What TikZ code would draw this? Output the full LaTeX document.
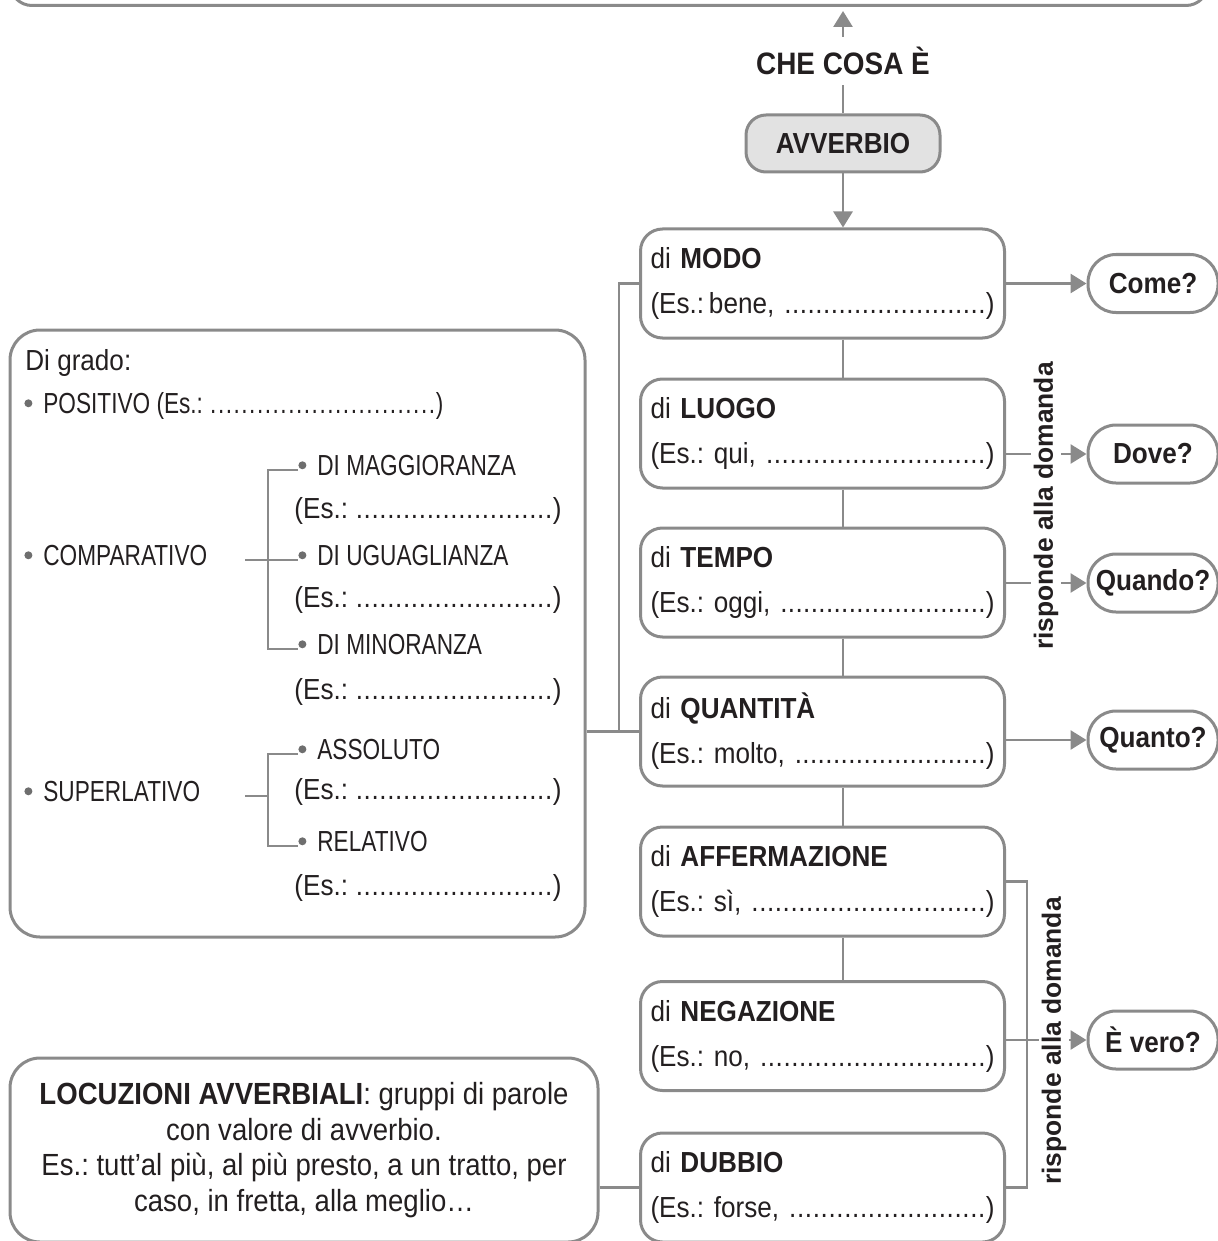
\documentclass[tikz,border=0pt]{standalone}
\usepackage{fontspec}
\setmainfont{Liberation Sans}[FakeStretch=0.9]
\newfontfamily\capsfont{Liberation Sans}[FakeStretch=0.78]
\newfontfamily\askfont{Liberation Sans}
\usetikzlibrary{positioning, arrows.meta}
\frenchspacing

\definecolor{linegray}{RGB}{138,138,138}
\definecolor{ink}{RGB}{35,31,32}
\definecolor{chipfill}{RGB}{226,226,226}
\definecolor{bulletgray}{RGB}{110,110,110}

\newcommand\blank{\xleaders\hbox to 3.8pt{\hss.\hss}\hfill)}
\newcommand\itm{\tikz[baseline=-5pt]\fill[bulletgray] (0,0) circle (2pt);\hspace{5.5pt}}

\begin{document}
\begin{tikzpicture}[
        x=0.5pt, y=-0.5pt,
        txt/.style={font=\fontsize{14.5}{22.5}\selectfont, text=ink},
        frame/.style={draw=linegray, line width=1.5pt, rounded corners=11pt},
        kind/.style={frame, txt, text width=172pt, align=left, inner xsep=5pt, minimum height=54.5pt},
        ask/.style={frame, rounded corners=14pt, txt, font=\fontsize{14.5}{17}\selectfont\bfseries, minimum width=65pt, minimum height=29pt, inner sep=1pt},
        item/.style={txt, inner sep=0pt, anchor=mid west},
        link/.style={draw=linegray, line width=1.4pt},
        arr/.style={link, -{Triangle[length=8pt, width=9.5pt]}},
        answer/.style={rotate=90, fill=white, inner sep=1.5pt, text=ink, font=\askfont\fontsize{13.2}{15}\selectfont\bfseries}
    ]
    \useasboundingbox (0,0) rectangle (1218,1241);

    % Riquadro in alto (tagliato)
    \node[frame, minimum width=599pt, minimum height=80pt, anchor=south] (deftop) at (609,7) {};

    % Titolo e nodo centrale
    \node[txt, font=\fontsize{15.5}{17}\selectfont\bfseries, inner sep=5pt] (checosa) at (843,61) {CHE COSA È};
    \node[frame, fill=chipfill, rounded corners=10pt, txt, font=\fontsize{14.5}{17}\selectfont\bfseries, minimum width=97pt, minimum height=28.5pt] (avverbio) at (843,143.5) {AVVERBIO};

    % Colonna dei tipi
    \node[kind] (modo) at (822.5,283.5) {di \textbf{MODO}\\(Es.:\,bene, \blank};
    \node[kind] (luogo) at (822.5,433.5) {di \textbf{LUOGO}\\(Es.: qui, \blank};
    \node[kind] (tempo) at (822.5,582.5) {di \textbf{TEMPO}\\(Es.: oggi, \blank};
    \node[kind] (quantita) at (822.5,731.5) {di \textbf{QUANTITÀ}\\(Es.: molto, \blank};
    \node[kind] (affermazione) at (822.5,881.5) {di \textbf{AFFERMAZIONE}\\(Es.: sì, \blank};
    \node[kind] (negazione) at (822.5,1036) {di \textbf{NEGAZIONE}\\(Es.: no, \blank};
    \node[kind] (dubbio) at (822.5,1187.5) {di \textbf{DUBBIO}\\(Es.: forse, \blank};

    % Domande
    \node[ask] (come) at (1153,283.5) {Come?};
    \node[ask] (dove) at (1153,454) {Dove?};
    \node[ask] (quando) at (1153,583) {Quando?};
    \node[ask] (quanto) at (1153,740) {Quanto?};
    \node[ask] (vero) at (1153,1040) {È vero?};

    % Riquadro dei gradi
    \node[frame, rounded corners=15pt, minimum width=287.5pt, minimum height=303.5pt] (grado) at (297.5,633.5) {};
    \node[item] (digrado) at (25,365) {Di grado:};
    \node[item] (positivo) at (24,408) {\itm\makebox[200pt][l]{\capsfont POSITIVO (Es.: \blank}};
    \node[item] (comparativo) at (24,560) {\itm{\capsfont COMPARATIVO}};
    \node[item] (maggioranza) at (298,470) {\itm{\capsfont DI MAGGIORANZA}};
    \node[item] (esmagg) at (294,513) {\makebox[133.5pt][l]{(Es.: \blank}};
    \node[item] (uguaglianza) at (298,560) {\itm{\capsfont DI UGUAGLIANZA}};
    \node[item] (esugu) at (294,602) {\makebox[133.5pt][l]{(Es.: \blank}};
    \node[item] (minoranza) at (298,649) {\itm{\capsfont DI MINORANZA}};
    \node[item] (esmin) at (294,694) {\makebox[133.5pt][l]{(Es.: \blank}};
    \node[item] (assoluto) at (298,754) {\itm{\capsfont ASSOLUTO}};
    \node[item] (superlativo) at (24,796) {\itm{\capsfont SUPERLATIVO}};
    \node[item] (esass) at (294,794) {\makebox[133.5pt][l]{(Es.: \blank}};
    \node[item] (relativo) at (298,846) {\itm{\capsfont RELATIVO}};
    \node[item] (esrel) at (294,890) {\makebox[133.5pt][l]{(Es.: \blank}};

    \coordinate (cstart) at (245,560);
    \coordinate (cfork) at (268,560);
    \coordinate (sstart) at (245,796);
    \coordinate (sfork) at (268,796);

    % Locuzioni
    \node[frame, rounded corners=15pt, minimum width=294pt, minimum height=92pt, txt, align=center, font=\fontsize{15.3}{17.85}\selectfont] (locuzioni) at (304,1150) {\textbf{LOCUZIONI AVVERBIALI}: gruppi di parole\\con valore di avverbio.\\Es.: tutt’al più, al più presto, a un tratto, per\\caso, in fretta, alla meglio…};

    % Collegamenti
    \draw[link] (avverbio) -- (checosa);
    \draw[arr, shorten >=2pt] (checosa) -- (checosa |- deftop.south);
    \draw[arr] (avverbio) -- (modo.north -| avverbio);
    \foreach \a/\b in {modo/luogo, luogo/tempo, tempo/quantita, quantita/affermazione, affermazione/negazione}
        \draw[link] (\a.south -| avverbio) -- (\b.north -| avverbio);

    \draw[arr] (modo) -- (come);
    \draw[arr] (dove.west -| luogo.east) -- (dove);
    \draw[arr] (quando.west -| tempo.east) -- (quando);
    \draw[arr] (quanto.west -| quantita.east) -- (quanto);
    \draw[arr] (vero.west -| negazione.east) -- (vero);
    \draw[link] (affermazione.east) -- ++(21,0) |- (dubbio.east);

    \draw[link] (modo.west) -- ++(-20,0) |- (quantita.west);
    \draw[link] (grado.east |- quantita.west) -- (quantita.west);
    \draw[link] (locuzioni.east |- dubbio.west) -- (dubbio.west);

    \draw[link] (cstart) -- (uguaglianza.mid west);
    \draw[link] (maggioranza.mid west) -| (cfork) |- (minoranza.mid west);
    \draw[link] (sstart) -- (sfork);
    \draw[link] (assoluto.mid west) -| (sfork) |- (relativo.mid west);

    % Etichette verticali
    \node[answer] (risp1) at (1046,506) {risponde alla domanda};
    \node[answer] (risp2) at (1054,1041) {risponde alla domanda};

\end{tikzpicture}
\end{document}
